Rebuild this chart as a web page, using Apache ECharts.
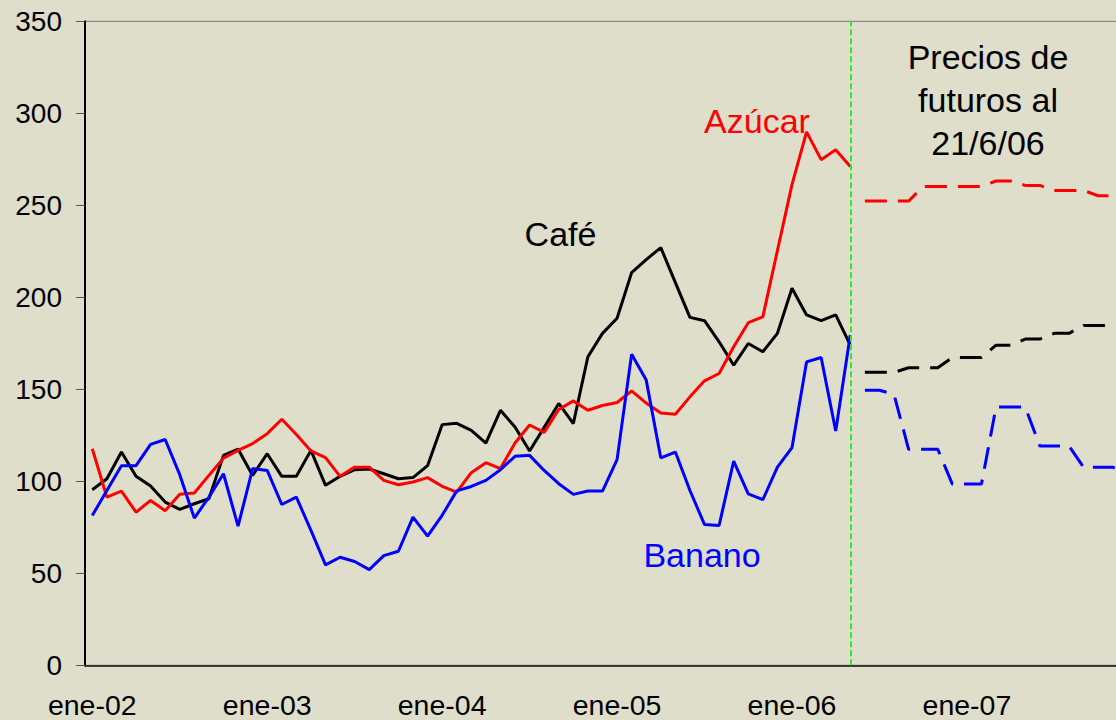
<!DOCTYPE html>
<html>
<head>
<meta charset="utf-8">
<script src="https://cdn.jsdelivr.net/npm/echarts@6/dist/echarts.min.js"></script>
<style>
html,body{margin:0;padding:0;background:#DEDECB;}
#chart{width:1116px;height:720px;}
</style>
</head>
<body>
<div id="chart"></div>
<script>
// Month names and years used to build the monthly category labels
var monthNames = ['ene','feb','mar','abr','may','jun','jul','ago','sep','oct','nov','dic'];
var yearLabels = ['02','03','04','05','06','07'];

// Historical monthly prices (ene-02 .. may-06)
var cafe = [95.4,101.4,115.9,102.7,97.4,88.7,84.7,87.8,90.5,114.1,117.5,103.2,
  115,102.7,102.7,116.8,97.8,102.7,106.3,106.7,104.1,101.4,102,108.5,
  130.8,131.5,127.7,120.8,138.6,129.5,116.5,129.3,142.3,131.4,167.7,180.4,
  188.6,213.4,220.5,227,208,189.1,187.3,175.8,163.1,174.9,170.4,180.4,
  204.9,190.4,187.3,190.4,174];
var azucar = [117.7,91.4,94.7,83.2,89.6,84,92.9,93.6,103.2,112.6,116.8,120.5,
  125.9,133.7,125.4,116.5,112.9,102.7,107.7,107.7,100.5,98.1,99.6,102,
  97.3,94.1,104.7,110.1,106.9,120.8,130.6,126.6,139,143.7,138.6,141.2,
  142.8,149.1,142.5,137.1,136.4,145.9,154.6,158.6,173.1,186.2,189.4,225.4,
  261.2,289.9,274.8,280.2,271.1];
var banano = [81.4,95,108.5,108.5,120.1,122.7,103.6,80,91.4,104.1,75.6,106.9,
  105.9,87.4,91.4,73.3,54.6,58.7,56.4,52,59.6,62,80.5,70.2,
  81.5,94.8,97.2,100.5,106.3,113.6,114.1,105.9,98.7,92.9,94.7,94.7,
  111.8,169.1,155,112.7,115.9,95,76.5,76,111,93.2,90,107.7,
  118.3,164.9,167.3,127.3,179.5];

// Futures prices as of 21/6/06 (jun-06 .. dic-07)
var azucarFut = [252.3,252.3,252.3,252.3,260.2,260.2,260.2,260.2,260.2,263.2,263.2,260.8,260.8,258.1,258.1,258.1,255.2,255.2,255.2];
var cafeFut = [159.2,159.2,159.2,161.7,161.7,161.7,167.3,167.3,167.3,174,174,177.3,177.3,180.4,180.4,184.7,184.7,184.7,184.7];
var bananoFut = [149.5,149.5,147.2,117.4,117.4,117.4,98.5,98.5,98.5,140.4,140.4,140.4,119.2,119.2,119.2,107.7,107.7,107.7,104];

var yTicks = [0,50,100,150,200,250,300,350];
var cutoffMonth = 'may-06';

var categories = [];
yearLabels.forEach(function(y){ monthNames.forEach(function(m){ categories.push(m + '-' + y); }); });

function hist(arr){ var out = arr.slice(); while(out.length < categories.length) out.push(null); return out; }
function fut(arr){ var out = []; for (var i = 0; i < categories.length - arr.length; i++) out.push(null); return out.concat(arr); }

var FONT = '"Liberation Sans", Arial, sans-serif';
var chart = echarts.init(document.getElementById('chart'), null, {renderer:'svg'});

chart.setOption({
  backgroundColor: '#DEDECB',
  animation: false,
  grid: {left: 85, top: 21.3, width: 72 * 14.577, height: 644, outerBoundsMode: 'none', containLabel: false,
    show: true, borderColor: '#7a7a7a', borderWidth: 1, backgroundColor: 'transparent'},
  xAxis: {
    type: 'category', data: categories, boundaryGap: true,
    axisLine: {lineStyle: {color: '#111', width: 1.5}},
    axisTick: {interval: 11, length: 8, lineStyle: {color: '#555', width: 1}},
    axisLabel: {interval: 11, fontSize: 28.5, fontFamily: FONT, color: '#000', margin: 25},
    splitLine: {show: false}
  },
  yAxis: {
    type: 'value', min: yTicks[0], max: yTicks[yTicks.length-1], interval: yTicks[1]-yTicks[0],
    axisLine: {show: true, lineStyle: {color: '#000', width: 2}},
    axisTick: {show: true, length: 9, lineStyle: {color: '#555', width: 1}},
    axisLabel: {fontSize: 28, fontFamily: FONT, color: '#000', margin: 23},
    splitLine: {show: false}
  },
  series: [
    {name: 'Azúcar', type: 'line', data: hist(azucar), showSymbol: false, symbol: 'none', lineStyle: {color: '#FF0000', width: 3}, z: 3,
      markLine: {silent: true, symbol: 'none', label: {show: false}, lineStyle: {color: '#2EE82E', width: 2, type: [6, 3]}, data: [{xAxis: cutoffMonth}]}},
    {name: 'Café', type: 'line', data: hist(cafe), showSymbol: false, symbol: 'none', lineStyle: {color: '#000000', width: 3}, z: 2},
    {name: 'Banano', type: 'line', data: hist(banano), showSymbol: false, symbol: 'none', lineStyle: {color: '#0000FF', width: 3}, z: 4},
    {name: 'Azúcar futuros', type: 'line', data: fut(azucarFut), showSymbol: false, symbol: 'none', lineStyle: {color: '#FF0000', width: 3, type: [22, 11]}},
    {name: 'Café futuros', type: 'line', data: fut(cafeFut), showSymbol: false, symbol: 'none', lineStyle: {color: '#000000', width: 3, type: [22, 11]}},
    {name: 'Banano futuros', type: 'line', data: fut(bananoFut), showSymbol: false, symbol: 'none', lineStyle: {color: '#0000FF', width: 3, type: [22, 11]}}
  ],
  graphic: [
    {type: 'text', x: 988, y: 57.2, style: {text: 'Precios de', font: '34px ' + FONT, fill: '#000', align: 'center', verticalAlign: 'middle'}},
    {type: 'text', x: 988, y: 100.2, style: {text: 'futuros al', font: '34px ' + FONT, fill: '#000', align: 'center', verticalAlign: 'middle'}},
    {type: 'text', x: 988, y: 143.2, style: {text: '21/6/06', font: '34px ' + FONT, fill: '#000', align: 'center', verticalAlign: 'middle'}},
    {type: 'text', x: 757, y: 120.9, style: {text: 'Azúcar', font: '34px ' + FONT, fill: '#FF0000', align: 'center', verticalAlign: 'middle'}},
    {type: 'text', x: 560.5, y: 233.9, style: {text: 'Café', font: '34px ' + FONT, fill: '#000', align: 'center', verticalAlign: 'middle'}},
    {type: 'text', x: 702, y: 555, style: {text: 'Banano', font: '34px ' + FONT, fill: '#0000FF', align: 'center', verticalAlign: 'middle'}}
  ]
});
</script>
</body>
</html>
